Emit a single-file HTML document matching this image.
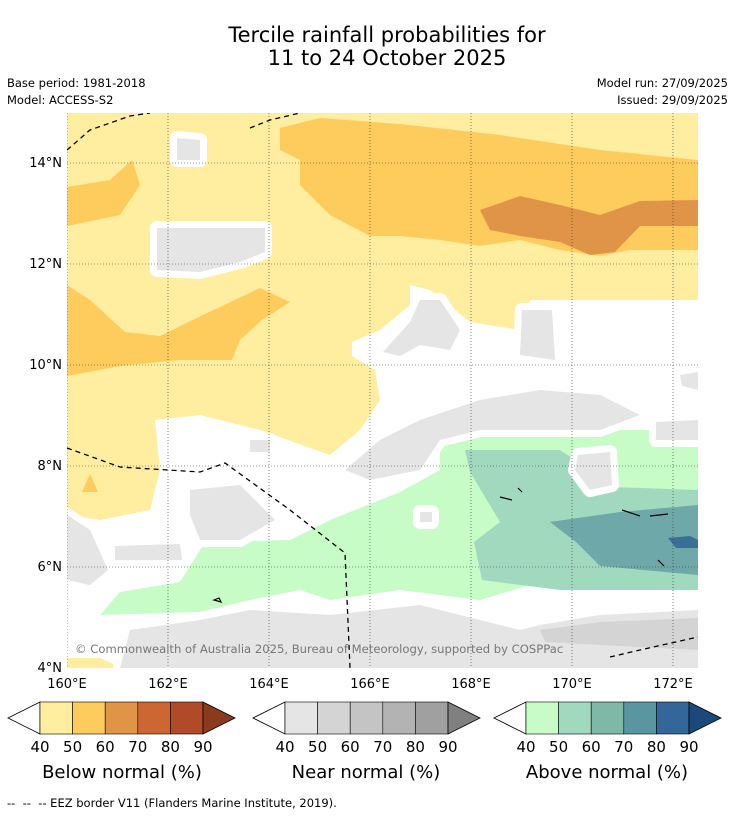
<!DOCTYPE html>
<html><head><meta charset="utf-8">
<style>
body{margin:0;background:#fff;font-family:"DejaVu Sans","Liberation Sans",sans-serif;}
#wrap{position:relative;width:736px;height:816px;overflow:hidden;background:#fff}
</style></head>
<body>
<div id="wrap">
<svg width="736" height="816" viewBox="0 0 736 816" xmlns="http://www.w3.org/2000/svg" font-family="DejaVu Sans, Liberation Sans, sans-serif">
<text x="387" y="42" font-size="21" text-anchor="middle">Tercile rainfall probabilities for</text>
<text x="387" y="65" font-size="21" text-anchor="middle">11 to 24 October 2025</text>
<text x="7" y="87" font-size="11.5">Base period: 1981-2018</text>
<text x="7" y="104" font-size="11.5">Model: ACCESS-S2</text>
<text x="728" y="87" font-size="11.5" text-anchor="end">Model run: 27/09/2025</text>
<text x="728" y="104" font-size="11.5" text-anchor="end">Issued: 29/09/2025</text>

<defs><clipPath id="mc"><rect x="67" y="113" width="631" height="555"/></clipPath></defs>
<g id="map" clip-path="url(#mc)">
<rect x="67" y="113" width="631" height="555" fill="#fff"/>
<path fill="#ffeda0" d="M67,113 L698,113 L698,300 L590,300 L560,300 L530,300 L520,330 L470,322 L430,290 L410,285 L410,305 L380,330 L352,342 L352,356 L375,370 L380,400 L360,430 L330,455 L260,430 L200,415 L155,420 L160,470 L150,510 L100,520 L67,515 Z"/>
<path fill="#fecc5c" d="M280,128 L320,118 L400,124 L500,135 L600,150 L698,160 L698,250 L630,250 L600,256 L560,250 L520,240 L480,246 L440,240 L400,236 L370,236 L330,215 L300,185 L300,160 L280,150 Z"/>
<path fill="#e09448" d="M480,210 L520,196 L560,205 L600,215 L640,201 L698,200 L698,226 L640,226 L615,252 L590,255 L560,242 L520,236 L490,230 Z"/>
<path fill="#fecc5c" d="M67,187 L110,180 L132,160 L140,185 L120,215 L67,226 Z"/>
<path fill="#fecc5c" d="M67,285 L90,300 L125,332 L160,336 L205,314 L260,288 L290,302 L262,320 L240,340 L232,360 L180,360 L120,366 L67,376 Z"/>
<path fill="#fecc5c" d="M82,492 L90,474 L98,492 Z"/>
<path fill="#ffeda0" d="M67,658 L100,658 L122,668 L67,668 Z"/>
<path fill="#c7fcc7" d="M440,430 L698,430 L698,590 L600,590 L540,582 L480,600 L400,590 L330,600 L300,590 L250,600 L200,612 L100,615 L120,592 L180,582 L205,542 L290,540 L330,520 L400,492 L440,470 Z"/>
<path fill="#a1d9bf" d="M465,450 L560,450 L590,470 L612,487 L698,490 L698,590 L560,590 L482,580 L474,542 L500,522 L470,472 Z"/>
<path fill="#6fa8a8" d="M550,522 L620,512 L698,505 L698,575 L600,566 L576,542 Z"/>
<path fill="#3a6f9a" d="M668,538 L690,536 L698,540 L698,548 L676,548 Z"/>
<g fill="#e5e5e5" stroke="#fff" stroke-width="14" stroke-linejoin="round" paint-order="stroke">
<path d="M157,228 L265,228 L265,252 L240,262 L200,272 L157,270 Z"/>
<path d="M177,138 L200,140 L200,160 L177,160 Z"/>
<path d="M383,352 L410,322 L420,300 L440,300 L460,330 L450,350 L420,345 L400,356 Z"/>
<path d="M345,470 L380,440 L420,420 L480,400 L540,390 L600,395 L640,415 L600,430 L480,430 L440,440 L420,470 L370,480 Z"/>
<path d="M680,375 L698,372 L698,390 L682,386 Z"/>
<path d="M656,422 L698,420 L698,440 L656,440 Z"/>
<path d="M578,455 L610,452 L612,485 L590,490 L575,470 Z"/>
<path d="M522,310 L552,310 L555,360 L520,355 Z"/>
<path d="M190,490 L240,485 L275,520 L240,540 L200,540 L190,515 Z"/>
<path d="M67,515 L90,530 L108,570 L90,585 L67,580 Z"/>
<path d="M115,546 L180,544 L182,560 L115,560 Z"/>
<path d="M250,440 L270,440 L270,452 L250,452 Z"/>
<path d="M130,630 L200,620 L250,610 L330,615 L420,605 L480,620 L520,630 L540,625 L600,615 L698,610 L698,668 L120,668 Z"/>
<path d="M420,512 L432,512 L432,522 L420,522 Z"/>
</g>
<path fill="#d4d4d4" d="M540,630 L600,622 L698,618 L698,650 L600,645 L545,642 Z"/>
<g stroke="#333" stroke-width="0.6" stroke-dasharray="1,2">
<line x1="67" x2="698" y1="567" y2="567"/><line x1="67" x2="698" y1="466" y2="466"/><line x1="67" x2="698" y1="365" y2="365"/><line x1="67" x2="698" y1="264" y2="264"/><line x1="67" x2="698" y1="163" y2="163"/>
</g>
<g stroke="#333" stroke-width="0.6" stroke-dasharray="1,2">
<line y1="113" y2="668" x1="67" x2="67"/><line y1="113" y2="668" x1="168" x2="168"/><line y1="113" y2="668" x1="269" x2="269"/><line y1="113" y2="668" x1="370" x2="370"/><line y1="113" y2="668" x1="471" x2="471"/><line y1="113" y2="668" x1="572" x2="572"/><line y1="113" y2="668" x1="673" x2="673"/>
</g>
<g fill="none" stroke="#000" stroke-width="1.3" stroke-dasharray="5,4">
<path d="M67,150 L90,130 L130,116 L150,113"/>
<path d="M250,128 L270,120 L300,113"/>
<path d="M67,448 L120,467 L200,472 L225,463 L290,510 L345,553 L350,668"/>
<path d="M610,657 L640,650 L698,637"/>
</g>
<g fill="none" stroke="#000" stroke-width="1.2">
<path d="M622,510 L640,516 M650,516 L668,514 M500,497 L512,500 M518,488 L522,492 M658,560 L664,566"/>
<path d="M214,600 l5,-2 l2,4 z"/>
</g>
<text x="75" y="653" font-size="11.6" fill="#777">© Commonwealth of Australia 2025, Bureau of Meteorology, supported by COSPPac</text>
</g>
<g font-size="13" text-anchor="end">
<text x="62" y="672">4°N</text><text x="62" y="571">6°N</text><text x="62" y="470">8°N</text><text x="62" y="369">10°N</text><text x="62" y="268">12°N</text><text x="62" y="167">14°N</text>
</g>
<g font-size="13" text-anchor="middle">
<text x="67" y="688">160°E</text><text x="168" y="688">162°E</text><text x="269" y="688">164°E</text><text x="370" y="688">166°E</text><text x="471" y="688">168°E</text><text x="572" y="688">170°E</text><text x="673" y="688">172°E</text>
</g>
<g id="bars"></g>
<text x="122" y="778" font-size="18" text-anchor="middle">Below normal (%)</text>
<text x="366" y="778" font-size="18" text-anchor="middle">Near normal (%)</text>
<text x="607" y="778" font-size="18" text-anchor="middle">Above normal (%)</text>
<text x="7" y="807" font-size="11.5" xml:space="preserve">--  --  -- EEZ border V11 (Flanders Marine Institute, 2019).</text>
</svg>
</div>
<script>
const tickLabels=["40","50","60","70","80","90"];
const belowColors=["#ffeda0","#fecc5c","#e09448","#cc6633","#b04a28","#8b3a1e"];
const nearColors=["#e5e5e5","#d4d4d4","#c4c4c4","#b3b3b3","#a0a0a0","#808080"];
const aboveColors=["#c7fcc7","#a1d9bf","#80b8a8","#5a96a0","#336699","#1b4a7a"];
const barStarts=[40,285,526];
const ns="http://www.w3.org/2000/svg";
const g=document.getElementById('bars');
function mk(t,a){const e=document.createElementNS(ns,t);for(const k in a)e.setAttribute(k,a[k]);g.appendChild(e);return e;}
[belowColors,nearColors,aboveColors].forEach((cols,bi)=>{
  const x0=barStarts[bi],w=32.6,y0=702,h=32;
  const tri=mk('path',{d:`M${x0},${y0} L${x0-32},${y0+h/2} L${x0},${y0+h} Z`,fill:'#fff',stroke:'#000','stroke-width':0.8});
  
  
  for(let i=0;i<5;i++){
    const r=mk('rect',{x:x0+i*w,y:y0,width:w,height:h,fill:cols[i],stroke:'#000','stroke-width':0.6});
    
    
  }
  const xe=x0+5*w;
  const t2=mk('path',{d:`M${xe},${y0} L${xe+32},${y0+h/2} L${xe},${y0+h} Z`,fill:cols[5],stroke:'#000','stroke-width':0.8});
  
  
  tickLabels.forEach((lb,i)=>{
    const t=mk('text',{x:x0+i*w,y:752,'font-size':15,'text-anchor':'middle'});
    t.textContent=lb;
    
    
  });
});
</script>
</body></html>
